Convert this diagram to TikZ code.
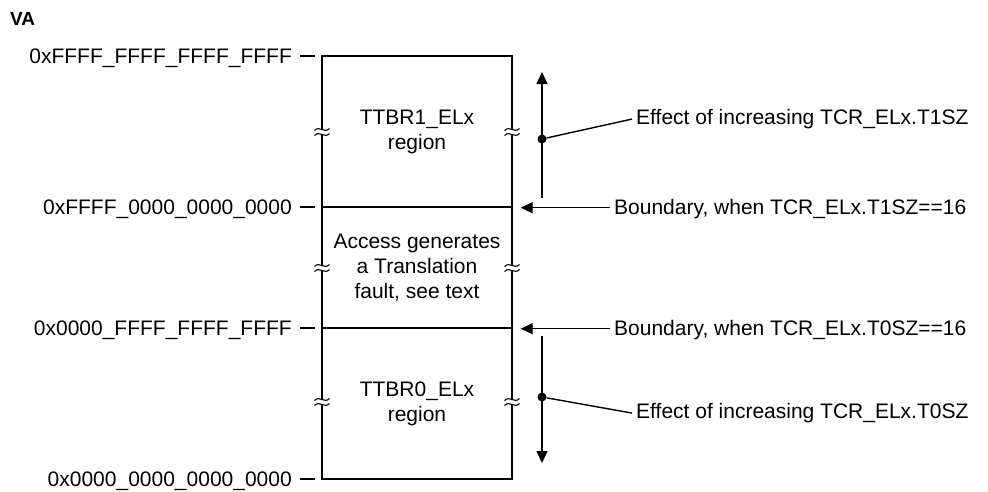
\documentclass[tikz,border=0pt]{standalone}
\usepackage{fontspec}
\setmainfont{Liberation Sans}
\usetikzlibrary{arrows.meta}
\tikzset{
    region/.style={draw, line width=1.4pt, minimum width=190pt, align=center, inner sep=0pt},
    addr/.style={anchor=base east, yshift=-7.5pt, inner sep=0pt},
    note/.style={anchor=base west, yshift=-7.5pt, inner sep=0pt},
    tick/.style={draw, line width=1.4pt},
    ptr/.style={draw, line width=1.4pt, -{Triangle[length=12pt, width=11pt]}},
    lead/.style={draw, line width=1.4pt},
    dot/.style={circle, fill, inner sep=0pt, minimum size=9pt},
    brk/.pic={
        \fill[white] (-7.5,-2.5) rectangle (7.5,2.5);
        \foreach \d in {-2.5,2.5}
            \draw[line width=1.1pt] (-7.5,\d+1) .. controls (-2,\d-4.5) and (2,\d+4.5) .. (7.5,\d-1);
    }
}
\begin{document}
\begin{tikzpicture}[x=1pt, y=-1pt, font=\fontsize{21}{25}\selectfont]
    \useasboundingbox (0,0) rectangle (988,491);
    % Nodes
    \node[anchor=base west, inner sep=0pt, font=\fontsize{19}{22}\selectfont\bfseries] (va) at (10,25) {VA};
    \node[region, minimum height=151pt] (ttbrone) at (417,131.5) {TTBR1\_ELx\\region};
    \node[region, minimum height=121pt] (fault) at (417,267.5) {Access generates\\a Translation\\fault, see text};
    \node[region, minimum height=151pt] (ttbrzero) at (417,403.5) {TTBR0\_ELx\\region};

    \node[addr] (top) at (292,56) {0xFFFF\_FFFF\_FFFF\_FFFF};
    \node[addr] (hi) at (292,207) {0xFFFF\_0000\_0000\_0000};
    \node[addr] (lo) at (292,328) {0x0000\_FFFF\_FFFF\_FFFF};
    \node[addr] (bot) at (292,479) {0x0000\_0000\_0000\_0000};

    \node[note] (bndone) at (614,207) {Boundary, when TCR\_ELx.T1SZ==16};
    \node[note] (bndzero) at (614,328) {Boundary, when TCR\_ELx.T0SZ==16};
    \node[note] (effone) at (636,117) {Effect of increasing TCR\_ELx.T1SZ};
    \node[note] (effzero) at (636,411) {Effect of increasing TCR\_ELx.T0SZ};

    \node[dot] (dotone) at (542,139) {};
    \node[dot] (dotzero) at (542,397) {};
    \coordinate (upbot) at (542,198);
    \coordinate (uptop) at (542,72);
    \coordinate (dnbot) at (542,463);
    \coordinate (dntop) at (542,336);

    % breaks
    \foreach \y in {132,268,402} {
        \pic at (322,\y) {brk};
        \pic at (512,\y) {brk};
    }

    % ticks
    \foreach \n in {top,hi,lo,bot}
        \draw[tick] ([xshift=8pt]\n.east |- \n.base) ++(0,-7.5) -- ++(15,0);

    % edges
    \draw[ptr] ([xshift=-4pt]bndone.west |- ttbrone.south) -- ([xshift=8pt]ttbrone.south east);
    \draw[ptr] ([xshift=-4pt]bndzero.west |- fault.south) -- ([xshift=8pt]fault.south east);
    \draw[ptr] (upbot) -- (uptop);
    \draw[ptr] (dntop) -- (dnbot);
    \draw[lead] (dotone) -- ([xshift=-4pt]effone.west);
    \draw[lead] (dotzero) -- ([xshift=-4pt]effzero.west);
\end{tikzpicture}
\end{document}
